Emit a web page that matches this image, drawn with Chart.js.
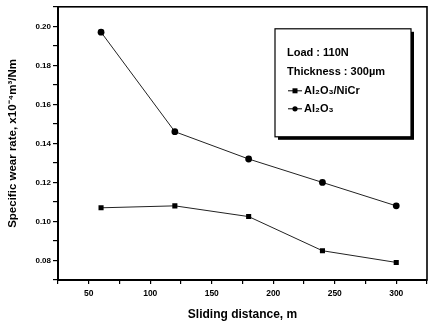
<!DOCTYPE html>
<html>
<head>
<meta charset="utf-8">
<script src="https://cdn.jsdelivr.net/npm/chart.js@4/dist/chart.umd.min.js"></script>
<style>
  body { margin: 0; background: #fff; }
  #wrap { width: 432px; height: 322px; }
</style>
</head>
<body>
<div id="wrap"><canvas id="wearChart"></canvas></div>
<script>
// data
const distances = [60, 120, 180, 240, 300];
const wearNiCr = [0.107, 0.108, 0.1025, 0.085, 0.079];
const wearAl2O3 = [0.197, 0.146, 0.132, 0.12, 0.108];
const legendNotes = ["Load : 110N", "Thickness : 300\u00b5m"];
const seriesNames = ["Al\u2082O\u2083/NiCr", "Al\u2082O\u2083"];

const FONT = "'Liberation Sans', Arial, sans-serif";

// frame round the plot area (top and right sides too)
const framePlugin = {
  id: "frame",
  afterDraw(chart) {
    const { ctx, chartArea: a } = chart;
    ctx.save();
    ctx.strokeStyle = "#000";
    ctx.lineWidth = 1.6;
    ctx.strokeRect(a.left, a.top, a.right - a.left, a.bottom - a.top);
    ctx.restore();
  },
};

// boxed legend with a drop shadow, like the original
const boxLegend = {
  id: "boxLegend",
  afterDraw(chart) {
    const { ctx, chartArea: a } = chart;
    const x = a.right - 152;
    const y = a.top + 22;
    const w = 136;
    const h = 108;
    ctx.save();
    ctx.fillStyle = "#000";
    ctx.fillRect(x + 3, y + 3, w, h);
    ctx.fillStyle = "#fff";
    ctx.fillRect(x, y, w, h);
    ctx.strokeStyle = "#000";
    ctx.lineWidth = 1.2;
    ctx.strokeRect(x, y, w, h);

    ctx.fillStyle = "#000";
    ctx.font = "bold 11px " + FONT;
    ctx.textBaseline = "middle";
    ctx.fillText(legendNotes[0], x + 12, y + 24);
    ctx.fillText(legendNotes[1], x + 12, y + 43);

    chart.data.datasets.forEach((ds, i) => {
      const ly = y + 62 + i * 18;
      ctx.strokeStyle = "#000";
      ctx.lineWidth = 1;
      ctx.beginPath();
      ctx.moveTo(x + 13, ly);
      ctx.lineTo(x + 27, ly);
      ctx.stroke();
      ctx.fillStyle = "#000";
      if (ds.pointStyle === "rect") {
        ctx.fillRect(x + 17.5, ly - 2.5, 5, 5);
      } else {
        ctx.beginPath();
        ctx.arc(x + 20, ly, 2.6, 0, Math.PI * 2);
        ctx.fill();
      }
      ctx.fillText(ds.label, x + 29, ly);
    });
    ctx.restore();
  },
};

new Chart(document.getElementById("wearChart"), {
  type: "line",
  plugins: [framePlugin, boxLegend],
  data: {
    datasets: [
      {
        label: seriesNames[0],
        data: distances.map((d, i) => ({ x: d, y: wearNiCr[i] })),
        borderColor: "#222",
        borderWidth: 1,
        pointStyle: "rect",
        pointRadius: 3.6,
        pointBackgroundColor: "#000",
        pointBorderColor: "#000",
        pointBorderWidth: 0,
      },
      {
        label: seriesNames[1],
        data: distances.map((d, i) => ({ x: d, y: wearAl2O3[i] })),
        borderColor: "#222",
        borderWidth: 1,
        pointStyle: "circle",
        pointRadius: 3.4,
        pointBackgroundColor: "#000",
        pointBorderColor: "#000",
        pointBorderWidth: 0,
      },
    ],
  },
  options: {
    responsive: true,
    maintainAspectRatio: false,
    animation: false,
    layout: { padding: { top: 6, right: 4, left: 0, bottom: 0 } },
    plugins: {
      legend: { display: false },
      tooltip: { enabled: false },
    },
    scales: {
      x: {
        type: "linear",
        min: 25,
        max: 325,
        afterFit: (scale) => {
          scale.height = 42;
        },
        border: { display: true, color: "#000", width: 2 },
        grid: { drawOnChartArea: false, drawTicks: true, tickLength: 4, color: "#000", lineWidth: 1.2 },
        ticks: {
          stepSize: 25,
          padding: 5,
          color: "#000",
          maxRotation: 0,
          autoSkip: false,
          font: { family: FONT, size: 8.5, weight: "bold" },
          callback: (v) => (v % 50 === 0 ? v : ""),
        },
        title: {
          display: true,
          text: "Sliding distance, m",
          color: "#000",
          padding: { top: 0, bottom: 0 },
          font: { family: FONT, size: 12, weight: "bold" },
        },
      },
      y: {
        min: 0.07,
        max: 0.21,
        afterFit: (scale) => {
          scale.width = 58;
        },
        border: { display: true, color: "#000", width: 2 },
        grid: { drawOnChartArea: false, drawTicks: true, tickLength: 5, color: "#000", lineWidth: 1.2 },
        ticks: {
          stepSize: 0.01,
          padding: 2,
          color: "#000",
          autoSkip: false,
          font: { family: FONT, size: 8, weight: "bold" },
          callback: (v) => (Math.round(v * 100) % 2 === 0 ? v.toFixed(2) : ""),
        },
        title: {
          display: true,
          text: "Specific wear rate, x10\u207b\u2074m\u00b3/Nm",
          color: "#000",
          padding: { top: 6, bottom: 0 },
          font: { family: FONT, size: 11.5, weight: "bold" },
        },
      },
    },
  },
});
</script>
</body>
</html>
